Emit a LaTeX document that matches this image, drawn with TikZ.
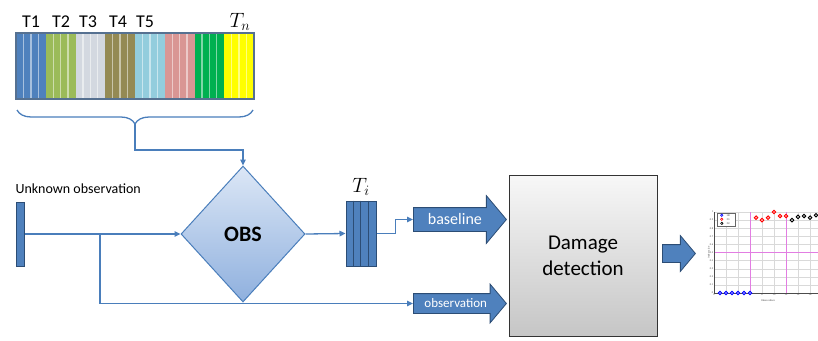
\documentclass[tikz,border=0pt]{standalone}
\usepackage{fontspec}
\setmainfont{Carlito}
\usetikzlibrary{shapes.geometric,shapes.arrows,arrows.meta,decorations.pathreplacing}

\definecolor{linkblue}{HTML}{4A7EBB}
\definecolor{barblue}{HTML}{4F81BD}
\definecolor{bardark}{HTML}{2C4D75}
\definecolor{obslight}{HTML}{DCE7F6}
\definecolor{obsdark}{HTML}{8FB0DE}
\definecolor{tgreen}{HTML}{9BBB59}
\definecolor{tgrey}{HTML}{D3D8E0}
\definecolor{tbrown}{HTML}{948A54}
\definecolor{tcyan}{HTML}{93CDDD}
\definecolor{tpink}{HTML}{D99694}
\definecolor{tleaf}{HTML}{00B050}
\definecolor{tyellow}{HTML}{FFFF00}
\definecolor{guide}{HTML}{E27DE2}

\tikzset{
  link/.style={draw=linkblue, line width=1.3pt},
  arrowed/.style={-{Triangle[length=6pt,width=5.5pt]}},
  fat/.style={single arrow, draw=bardark, fill=barblue, text=white, inner sep=0pt,
    single arrow tip angle=100, line width=0.8pt},
  tlabel/.style={font=\fontsize{18}{21}\selectfont},
  mathlabel/.style={font=\fontsize{20}{24}\selectfont},
  plotlabel/.style={font=\fontsize{2.6}{3}\selectfont, inner sep=0.6pt, text=black!70},
  dot/.style={line width=0.9pt}
}

\begin{document}
\begin{tikzpicture}[x=1pt, y=-1pt]
  \useasboundingbox (0,0) rectangle (818,340);

  % Draw the striped template bars
  \foreach \c [count=\i from 0] in {barblue,tgreen,tgrey,tbrown,tcyan,tpink,tleaf,tyellow} {
    \fill[\c] (16+29.75*\i,33) rectangle ++(29.75,66);
    \foreach \k in {1,2,3}
      \draw[\c!50!white, line width=1.3pt] (16+29.75*\i+7.44*\k,33) -- ++(0,66);
  }
  \draw[bardark!80, line width=1.2pt] (16,33) rectangle (254,99);

  % Template labels
  \foreach \t/\x in {T1/31,T2/61,T3/88,T4/118,T5/145}
    \node[tlabel, anchor=base] (\t) at (\x,27) {\t};
  \node[mathlabel, anchor=base] (Tn) at (240,27) {$T_n$};

  % Brace under the templates
  \draw[link, decorate, decoration={brace, amplitude=14pt, mirror}] (17,110) -- (253,110);
  \coordinate (btip) at (135,124);

  % Unknown observation
  \node[anchor=base west, font=\fontsize{14}{16}\selectfont] (ulabel) at (12,193) {Unknown observation};
  \node[fill=barblue, draw=bardark, line width=1pt, minimum width=8pt, minimum height=64pt,
    inner sep=0pt] (ubar) at (20.5,234) {};

  % OBS diamond
  \node[diamond, aspect=0.92, minimum width=124pt, minimum height=136pt, inner sep=0pt,
    draw=linkblue, line width=1pt, top color=obslight, bottom color=obsdark,
    font=\fontsize{22}{26}\selectfont\bfseries] (obs) at (243,234) {OBS};

  % Selected template
  \node[fill=barblue, draw=bardark, line width=1pt, minimum width=30pt, minimum height=65pt,
    inner sep=0pt] (ti) at (361,233.5) {};
  \foreach \k in {1,2,3}
    \draw[bardark, line width=1pt] (ti.north west) ++(7.5*\k,0) -- ++(0,65);
  \node[mathlabel, anchor=base] (tilabel) at (361,192) {$T_i$};

  % Block arrows
  \node[fat, minimum height=93pt, single arrow head extend=12pt, text height=16.5pt,
    text depth=6.5pt, anchor=tail, font=\fontsize{16}{18}\selectfont] (base) at (413,219.5) {baseline};
  \node[fat, minimum height=93pt, single arrow head extend=9.5pt, text height=13.5pt,
    text depth=5.5pt, anchor=tail, font=\fontsize{13}{15}\selectfont] (obsv) at (413,303.5) {observation};
  \node[fat, minimum height=33pt, single arrow head extend=9pt, text height=8.5pt,
    text depth=8.5pt, anchor=tail] (out) at (662,253.5) {};

  % Damage detection box
  \node[draw=black!80, line width=1pt, top color=gray!6, bottom color=gray!45,
    minimum width=148pt, minimum height=161pt, align=center,
    font=\fontsize{21}{26}\selectfont] (dd) at (583,255.5) {Damage\\detection};

  % Connectors
  \draw[link, arrowed] (btip) -- ++(0,26) -| (obs.north);
  \draw[link, arrowed] (ubar.east) -- (obs.west);
  \coordinate (split) at (100,234);
  \draw[link, arrowed] (split) |- (obsv.tail);
  \draw[link, arrowed] (obs.east) -- (ti.west);
  \draw[link, arrowed] (ti.east) -- ++(19,0) |- (base.tail);

  % Result plot
  \begin{scope}[shift={(714,293)}, x=6pt, y=81pt]
    \foreach \u in {0,2,...,16}
      \draw[gray!30, line width=0.4pt] (\u,0) -- (\u,1);
    \foreach \v in {0,0.1,0.2,0.3,0.4,0.5,0.6,0.7,0.8,0.9,1}
      \draw[gray!30, line width=0.4pt] (0,\v) -- (17.3,\v);
    \draw[guide, line width=0.9pt] (6,0) -- (6,1) (12,0) -- (12,1) (0,0.5) -- (17.3,0.5);
    \draw[black!70, line width=0.4pt] (0,1) -- (0,0) -- (17.3,0);
    \foreach \u in {0,2,...,16}
      \node[plotlabel, below] (xt\u) at (\u,0) {\u};
    \foreach \v in {0,0.1,0.2,0.3,0.4,0.5,0.6,0.7,0.8,0.9,1}
      \node[plotlabel, left] (yt\v) at (0,\v) {\v};
    \node[plotlabel] (xname) at (9,-0.09) {Observations};
    \node[plotlabel, rotate=90] (yname) at (-0.9,0.5) {Index value};
    % points
    \foreach \u in {1,...,6}
      \draw[blue, fill=blue!25, dot] (\u,0) circle (1.8pt);
    \foreach \u/\v in {7/0.93,8/0.90,9/0.93,10/1.0,11/0.95,12/0.95}
      \draw[red, fill=red!25, dot] (\u,\v) circle (1.8pt);
    \foreach \u/\v in {13/0.90,14/0.94,15/0.95,16/0.93,17/0.96}
      \draw[black, fill=black!15, dot] (\u,\v) circle (1.8pt);
    % legend
    \draw[black!60, fill=white, line width=0.4pt] (0.5,0.985) rectangle (3.6,0.83);
    \foreach \c/\v/\l in {blue/0.96/ND,red/0.91/D1,black/0.86/D2} {
      \draw[\c, dot, line width=0.6pt] (1.3,\v) circle (1.2pt);
      \node[plotlabel, right] (leg\l) at (2.0,\v) {\l};
    }
  \end{scope}
\end{tikzpicture}
\end{document}
